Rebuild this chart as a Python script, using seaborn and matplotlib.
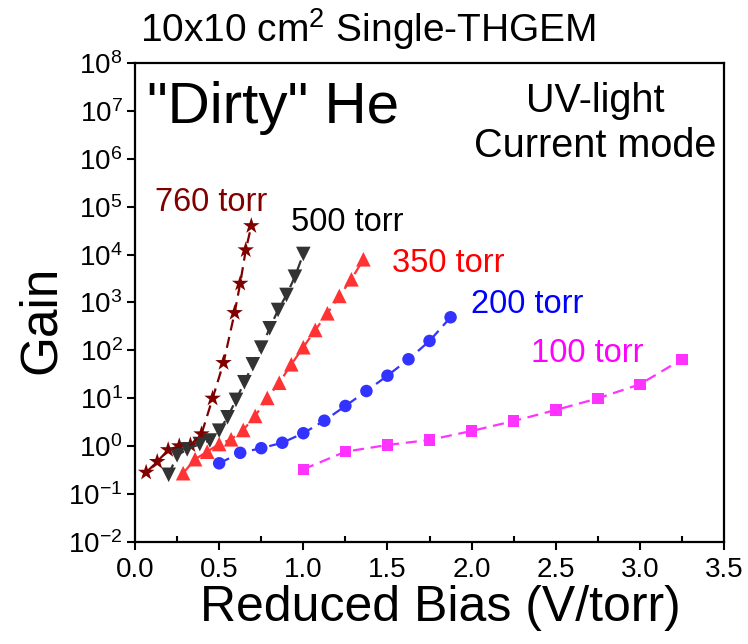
import numpy as np
import pandas as pd
import matplotlib
matplotlib.use("Agg")
import matplotlib.pyplot as plt
import seaborn as sns
from matplotlib.ticker import MultipleLocator, LogLocator, FormatStrFormatter

sns.set_style("ticks")
plt.rcParams['font.family'] = ['Liberation Sans', 'DejaVu Sans']
plt.rcParams['mathtext.default'] = 'regular'
plt.rcParams['text.color'] = 'black'
plt.rcParams['axes.labelcolor'] = 'black'

# reduced bias (V/torr) and gain for each pressure
bias_760 = [0.066, 0.132, 0.197, 0.263, 0.329, 0.395, 0.461, 0.526, 0.592, 0.625, 0.658, 0.691]
gain_760 = [0.28, 0.47, 0.83, 1.0, 1.05, 1.78, 9.9, 55, 610, 2500, 12500, 40000]

bias_500 = [0.2, 0.25, 0.31, 0.385, 0.445, 0.5, 0.55, 0.6, 0.65, 0.7, 0.75, 0.8, 0.85, 0.9, 0.95, 1.0]
gain_500 = [0.25, 0.64, 0.85, 1.1, 1.3, 2.09, 3.98, 9.2, 21.5, 51, 114, 289, 697, 1436, 3460, 10330]

bias_350 = [0.286, 0.357, 0.429, 0.5, 0.571, 0.643, 0.714, 0.786, 0.857, 0.929, 1.0, 1.071, 1.143, 1.214, 1.286, 1.357]
gain_350 = [0.27, 0.53, 0.76, 1.1, 1.38, 2.16, 4.24, 10.1, 21, 51, 116, 266, 594, 1370, 3050, 8000]

bias_200 = [0.5, 0.625, 0.75, 0.875, 1.0, 1.125, 1.25, 1.375, 1.5, 1.625, 1.75, 1.875]
gain_200 = [0.435, 0.72, 0.90, 1.17, 1.85, 3.38, 6.87, 14.1, 29.5, 65, 157, 491]

bias_100 = [1.0, 1.25, 1.5, 1.75, 2.0, 2.25, 2.5, 2.75, 3.0, 3.25]
gain_100 = [0.326, 0.76, 1.05, 1.34, 2.06, 3.33, 5.66, 9.9, 19.5, 65]

series = [
    # label, bias, gain, marker color, text color, marker, size, label pos (axes frac)
    ("760 torr", bias_760, gain_760, "#800000", "#800000", "*", 12.5, (0.034, 0.691)),
    ("500 torr", bias_500, gain_500, "#333333", "black", "v", 10.5, (0.265, 0.649)),
    ("350 torr", bias_350, gain_350, "#ff3333", "#ff0000", "^", 10.5, (0.436, 0.564)),
    ("200 torr", bias_200, gain_200, "#3333ff", "#0000ff", "o", 9, (0.571, 0.477)),
    ("100 torr", bias_100, gain_100, "#ff33ff", "#ff00ff", "s", 8.3, (0.673, 0.376)),
]

fig = plt.figure(figsize=(7.48, 6.44), dpi=100)
ax = fig.add_axes([0.1805, 0.1589, 0.7875, 0.7428])

for name, b, g, col, tcol, mk, ms, pos in series:
    df = pd.DataFrame({"bias": b, "gain": g})
    sns.scatterplot(data=df, x="bias", y="gain", ax=ax, marker=mk, s=ms ** 2,
                    color=col, edgecolor="none", linewidth=0, zorder=2)
    sns.lineplot(data=df, x="bias", y="gain", ax=ax, color=col, lw=1.6,
                 dashes=False, zorder=3)
    ax.lines[-1].set_dashes([5, 3])
    ax.text(pos[0], pos[1], name, transform=ax.transAxes, color=tcol,
            fontsize=23.5, ha="left", va="baseline")

ax.set_yscale("log")
ax.set_xlim(0, 3.5)
ax.set_ylim(1e-2, 1e8)
ax.yaxis.set_major_locator(LogLocator(base=10, numticks=20))
ax.yaxis.set_minor_locator(plt.NullLocator())
ax.xaxis.set_major_locator(MultipleLocator(0.5))
ax.xaxis.set_minor_locator(MultipleLocator(0.25))
ax.xaxis.set_major_formatter(FormatStrFormatter("%.1f"))

ax.tick_params(axis="both", which="major", labelsize=20, width=1.5, length=6,
               direction="out", color="black", labelcolor="black", pad=3)
ax.tick_params(axis="x", which="major", pad=5)
ax.tick_params(axis="x", which="minor", direction="in", length=4, width=1.5,
               color="black")
for sp in ax.spines.values():
    sp.set_linewidth(1.6)
    sp.set_color("black")

ax.set_xlabel("Reduced Bias (V/torr)", fontsize=36)
ax.set_ylabel("Gain", fontsize=37)
ax.xaxis.set_label_coords(0.518, -0.0916)
ax.yaxis.set_label_coords(-0.117, 0.463)

ax.text(0.02, 0.875, '"Dirty" He', transform=ax.transAxes, fontsize=42,
        ha="left", va="baseline")
ax.text(0.781, 0.898, "UV-light", transform=ax.transAxes, fontsize=28.5,
        ha="center", va="baseline")
ax.text(0.781, 0.804, "Current mode", transform=ax.transAxes, fontsize=28.5,
        ha="center", va="baseline")

fig.text(0.187, 0.935, "10x10 cm$^2$ Single-THGEM", fontsize=28,
         ha="left", va="baseline")

fig.savefig("out.png", dpi=100)
